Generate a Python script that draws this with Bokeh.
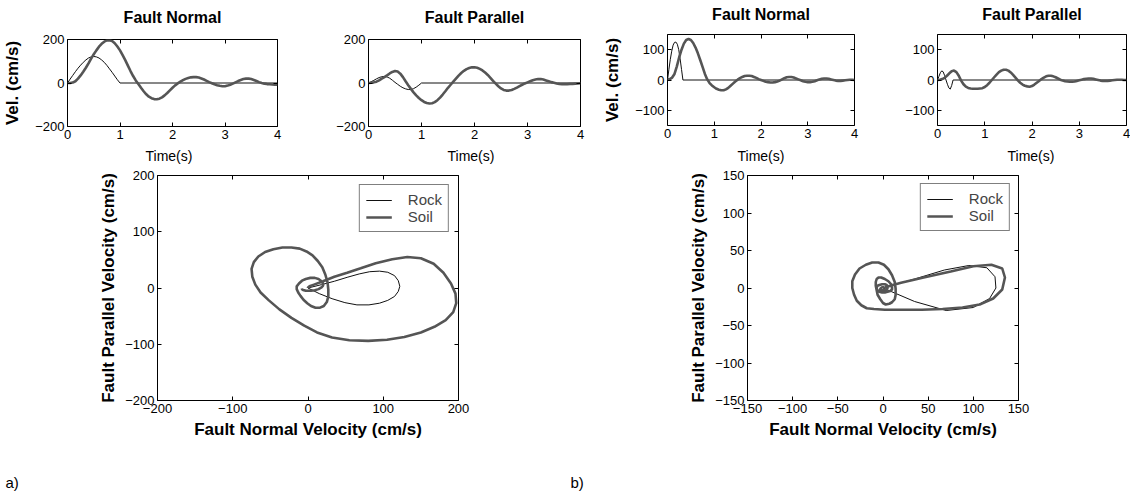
from bokeh.plotting import figure
from bokeh.models import (Range1d, LinearAxis, FixedTicker, Legend, LegendItem, Title,
                          CustomJSTickFormatter, Spacer)
from bokeh.layouts import row, column
from bokeh.embed import file_html
from bokeh.resources import INLINE

# ---------------- data ----------------
# panel a) soil record, sampled every 0.05 s
a_soil_time = [0.00, 0.05, 0.10, 0.15, 0.20, 0.25, 0.30, 0.35, 0.40, 0.45,
               0.50, 0.55, 0.60, 0.65, 0.70, 0.75, 0.80, 0.85, 0.90, 0.95,
               1.00, 1.05, 1.10, 1.15, 1.20, 1.25, 1.30, 1.35, 1.40, 1.45,
               1.50, 1.55, 1.60, 1.65, 1.70, 1.75, 1.80, 1.85, 1.90, 1.95,
               2.00, 2.05, 2.10, 2.15, 2.20, 2.25, 2.30, 2.35, 2.40, 2.45,
               2.50, 2.55, 2.60, 2.65, 2.70, 2.75, 2.80, 2.85, 2.90, 2.95,
               3.00, 3.05, 3.10, 3.15, 3.20, 3.25, 3.30, 3.35, 3.40, 3.45,
               3.50, 3.55, 3.60, 3.65, 3.70, 3.75, 3.80, 3.85, 3.90, 3.95, 4.00]
a_soil_normal = [0, 0, 2, 8, 20, 35, 52, 70, 90, 112,
                 132, 150, 167, 180, 190, 196, 197, 193, 183, 168,
                 150, 128, 105, 80, 55, 32, 12, -5, -22, -38,
                 -52, -63, -70, -74, -75, -72, -66, -57, -46, -34,
                 -22, -11, -2, 6, 13, 19, 23, 26, 27, 27,
                 25, 21, 16, 10, 4, -1, -6, -10, -13, -15,
                 -15, -12, -8, -3, 3, 9, 14, 18, 20, 20,
                 18, 14, 9, 4, 0, -3, -5, -6, -7, -8, -8]
a_soil_parallel = [0, 1, 3, 6, 12, 20, 27, 35, 44, 51,
                   55, 53, 43, 27, 8, -10, -27, -43, -57, -69,
                   -79, -87, -92, -94, -93, -88, -79, -67, -53, -38,
                   -22, -8, 6, 20, 34, 46, 56, 64, 69, 72,
                   72, 70, 65, 58, 48, 37, 24, 10, -3, -15,
                   -25, -32, -35, -35, -32, -27, -21, -14, -8, -2,
                   3, 8, 13, 16, 18, 18, 16, 12, 8, 4,
                   1, -2, -4, -5, -5, -5, -4, -4, -3, -2, -1]

# panel a) rock record
a_rock_time = [0.00, 0.05, 0.10, 0.15, 0.20, 0.25, 0.30, 0.35, 0.40, 0.45,
               0.50, 0.55, 0.60, 0.65, 0.70, 0.75, 0.80, 0.85, 0.90, 0.95,
               1.00, 4.00]
a_rock_normal = [0, 18, 35, 52, 68, 82, 95, 106, 115, 120,
                 122, 120, 115, 106, 95, 81, 65, 49, 32, 15,
                 0, 0]
a_rock_parallel = [0, 6, 12, 19, 25, 29, 30, 28, 22, 13,
                   3, -6, -15, -22, -27, -30, -30, -26, -19, -10,
                   0, 0]

# panel b) soil record, sampled every 0.05 s
b_soil_time = list(a_soil_time)
b_soil_normal = [2, 3, 8, 20, 45, 75, 100, 120, 132, 135,
                 132, 122, 107, 88, 66, 43, 20, 2, -10, -18,
                 -24, -29, -32, -34, -34, -31, -26, -19, -12, -5,
                 1, 6, 10, 13, 14, 14, 13, 10, 7, 3,
                 0, -3, -6, -7, -8, -8, -7, -5, -2, 2,
                 6, 9, 10, 10, 8, 5, 2, -1, -4, -6,
                 -7, -7, -6, -4, -1, 2, 4, 5, 5, 4,
                 2, 0, -2, -3, -3, -2, -1, 0, 1, 1, 0]
b_soil_parallel = [0, 1, 3, 7, 14, 22, 29, 31, 26, 14,
                   -2, -14, -22, -26, -28, -29, -29, -29, -28, -27,
                   -23, -17, -9, 0, 9, 18, 26, 31, 34, 34,
                   31, 25, 17, 8, -1, -9, -15, -19, -21, -22,
                   -20, -15, -9, -3, 3, 8, 12, 14, 14, 12,
                   9, 5, 1, -2, -4, -5, -6, -6, -5, -3,
                   -1, 1, 3, 4, 5, 5, 4, 2, 0, -2,
                   -3, -3, -3, -2, -1, 0, 1, 1, 1, 0, 0]

# panel b) rock record
b_rock_time = [0.00, 0.03, 0.06, 0.09, 0.12, 0.15, 0.18, 0.21, 0.24, 0.27,
               0.30, 0.33, 4.00]
b_rock_normal = [0, 35, 68, 95, 115, 124, 125, 118, 100, 70, 35, 0, 0]
b_rock_parallel = [0, 12, 24, 30, 27, 15, 0, -14, -26, -30, -18, 0, 0]

time_ticks = [0, 1, 2, 3, 4]
a_vel_ticks = [-200, 0, 200]
b_vel_ticks = [-100, 0, 100]
a_hodo_ticks = [-200, -100, 0, 100, 200]
b_hodo_ticks = [-150, -100, -50, 0, 50, 100, 150]

# ---------------- style ----------------
FONT = "Liberation Sans"
SOIL = "#555555"
ROCK = "#111111"
TOP_H = 168
TAG_H = 26
BOT_H = 494 - TOP_H - TAG_H


def hidden_axis(ticks):
    ax = LinearAxis(ticker=FixedTicker(ticks=ticks),
                    formatter=CustomJSTickFormatter(code="return ''"))
    ax.major_tick_in = 4
    ax.major_tick_out = 0
    ax.minor_tick_line_color = None
    ax.axis_line_color = None
    ax.major_label_text_font_size = "1px"
    ax.major_label_standoff = 0
    return ax


def make_fig(width, height, left, right, top, bottom, xr, yr, xticks, yticks,
             tick_size="13px"):
    p = figure(width=width, height=height, x_range=Range1d(*xr), y_range=Range1d(*yr),
               output_backend="svg", toolbar_location=None,
               min_border_left=left, min_border_right=right,
               min_border_top=top, min_border_bottom=bottom)
    p.grid.visible = False
    p.outline_line_color = "black"
    p.outline_line_width = 1
    p.background_fill_color = "white"
    p.border_fill_color = "white"
    xa = p.below[0]
    ya = p.left[0]
    for ax, ticks in ((xa, xticks), (ya, yticks)):
        ax.ticker = FixedTicker(ticks=ticks)
        ax.major_tick_in = 4
        ax.major_tick_out = 0
        ax.minor_tick_line_color = None
        ax.axis_line_color = None
        ax.major_label_text_font = FONT
        ax.major_label_text_font_size = tick_size
        ax.major_label_text_color = "black"
        ax.major_label_standoff = 3
        ax.axis_label_text_font = FONT
        ax.axis_label_text_font_style = "bold"
        ax.axis_label_text_color = "black"
    p.add_layout(hidden_axis(xticks), "above")
    p.add_layout(hidden_axis(yticks), "right")
    return p, xa, ya


def text_strip(width, height, left, right, text, size, style, align="center", offset=0):
    p = figure(width=width, height=height, x_range=Range1d(0, 1), y_range=Range1d(0, 1),
               output_backend="svg", toolbar_location=None,
               min_border_left=left, min_border_right=right,
               min_border_top=0, min_border_bottom=0)
    p.axis.visible = False
    p.grid.visible = False
    p.outline_line_color = None
    p.title.text = text
    p.title.align = align
    p.title.offset = offset
    p.title.standoff = 0
    p.title.text_font = FONT
    p.title.text_font_size = size
    p.title.text_font_style = style
    p.title.text_color = "black"
    return p


def time_plot(width, left, right, frame_top, gap, strip_h, yr, yticks, normal_t, soil_v,
              rock_t, rock_v, title, ylabel, time_offset, time_standoff):
    fh = 89 if yr[1] == 200 else 91
    h = TOP_H - strip_h - gap
    top = frame_top - strip_h - gap
    bottom = h - top - fh
    p, xa, ya = make_fig(width, h, left, right, top, bottom, (0, 4), yr,
                         time_ticks, yticks)
    if ylabel:
        ya.axis_label = ylabel
        ya.axis_label_text_font_size = "17px"
        ya.axis_label_standoff = 10
    p.add_layout(Title(text="Time(s)", align="left", offset=time_offset,
                       standoff=time_standoff, text_font=FONT, text_font_size="14px",
                       text_font_style="normal", text_color="black"), "below")
    p.line(rock_t, rock_v, line_color=ROCK, line_width=1)
    p.line(normal_t, soil_v, line_color=SOIL, line_width=2.6)
    strip = text_strip(width, strip_h, left, right, title, "16px", "bold")
    gap_box = Spacer(width=width, height=gap, sizing_mode="fixed")
    return column(gap_box, strip, p)


# ---------------- top row ----------------
pa1 = time_plot(300, 67, 23, 39, 6, 26, (-200, 200), a_vel_ticks, a_soil_time, a_soil_normal,
                a_rock_time, a_rock_normal, "Fault Normal", "Vel. (cm/s)", 78, 9)
pa2 = time_plot(300, 68, 20, 39, 6, 26, (-200, 200), a_vel_ticks, a_soil_time,
                a_soil_parallel, a_rock_time, a_rock_parallel, "Fault Parallel", None, 79, 9)
pb1 = time_plot(270, 65, 16, 34, 3, 25, (-150, 150), b_vel_ticks, b_soil_time, b_soil_normal,
                b_rock_time, b_rock_normal, "Fault Normal", "Vel. (cm/s)", 70, 10)
pb2 = time_plot(260, 67, 4, 34, 3, 25, (-150, 150), b_vel_ticks, b_soil_time,
                b_soil_parallel, b_rock_time, b_rock_parallel, "Fault Parallel", None, 70, 10)


# ---------------- hodographs ----------------
def hodo_plot(width, left, right, frame_top, fh, lim, ticks, soil_x, soil_y, rock_x,
              rock_y, legend_margin):
    top = frame_top - TOP_H
    bottom = BOT_H - top - fh
    p, xa, ya = make_fig(width, BOT_H, left, right, top, bottom, (-lim, lim), (-lim, lim),
                         ticks, ticks)
    xa.axis_label = "Fault Normal Velocity (cm/s)"
    ya.axis_label = "Fault Parallel Velocity (cm/s)"
    xa.axis_label_text_font_size = "17px"
    ya.axis_label_text_font_size = "17px"
    xa.axis_label_standoff = 4
    ya.axis_label_standoff = 4
    r_rock = p.line(rock_x, rock_y, line_color=ROCK, line_width=1)
    r_soil = p.line(soil_x, soil_y, line_color=SOIL, line_width=2.6)
    legend = Legend(items=[LegendItem(label="Rock", renderers=[r_rock]),
                           LegendItem(label="Soil", renderers=[r_soil])],
                    location="top_right")
    legend.margin = legend_margin
    legend.padding = 6
    legend.spacing = 0
    legend.glyph_width = 26
    legend.glyph_height = 14
    legend.label_height = 14
    legend.label_standoff = 16
    legend.label_text_font = FONT
    legend.label_text_font_size = "15px"
    legend.label_text_line_height = 0.9
    legend.border_line_color = "black"
    legend.border_line_width = 1
    legend.background_fill_color = "white"
    legend.background_fill_alpha = 1
    p.add_layout(legend)
    return p


pa3 = hodo_plot(570, 157, 112, 175, 226, 200, a_hodo_ticks, a_soil_normal, a_soil_parallel,
                a_rock_normal, a_rock_parallel, 9)
pb3 = hodo_plot(560, 177, 112, 175, 225, 150, b_hodo_ticks, b_soil_normal, b_soil_parallel,
                b_rock_normal, b_rock_parallel, 8)

# ---------------- panel tags a) b) ----------------
ta = text_strip(570, TAG_H - 3, 0, 0, "a)", "15px", "normal", align="left", offset=5)
tb = text_strip(560, TAG_H - 3, 0, 0, "b)", "15px", "normal", align="left", offset=0)
tag_gap = Spacer(width=1130, height=3, sizing_mode="fixed")

layout = column(row(pa1, pa2, pb1, pb2), row(pa3, pb3), tag_gap, row(ta, tb))
open("out.html", "w").write(file_html(layout, INLINE))
